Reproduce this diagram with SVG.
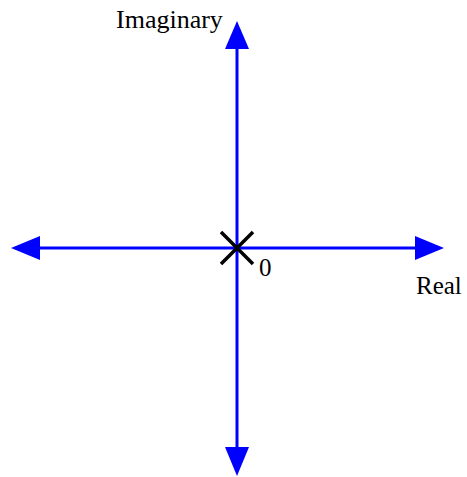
<svg xmlns="http://www.w3.org/2000/svg" width="467" height="477" viewBox="0 0 467 477">
<style>
.axis{stroke:#0000ff;stroke-width:3;fill:none}
.head{fill:#0000ff;stroke:none}
.lbl{font-family:"Liberation Serif","Times New Roman",serif;font-size:25px;fill:#000}
.cross{stroke:#000;stroke-width:3.5;fill:none}
</style>
<rect width="467" height="477" fill="#fff"/>
<g id="connectors">
<line class="axis" x1="237" y1="45" x2="237" y2="450"/>
<line class="axis" x1="36" y1="248" x2="420" y2="248"/>
<polygon class="head" points="237,21 249,49 225,49"/>
<polygon class="head" points="237,476 249,447 225,447"/>
<polygon class="head" points="11,248 40,236 40,260"/>
<polygon class="head" points="444,248 415,236 415,260"/>
</g>
<g id="origin">
<path class="cross" d="M221,232 L253,264 M253,232 L221,264"/>
<text class="lbl" x="259" y="276">0</text>
</g>
<g id="imaginary-label"><text class="lbl" x="116" y="28" style="font-size:26px">Imaginary</text></g>
<g id="real-label"><text class="lbl" x="416" y="294">Real</text></g>
</svg>
